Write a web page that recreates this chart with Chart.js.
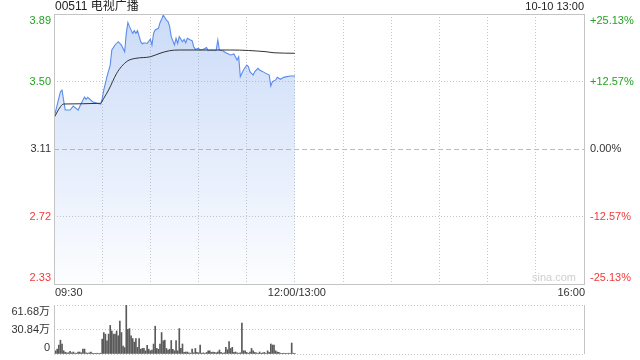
<!DOCTYPE html>
<html>
<head>
<meta charset="utf-8">
<script src="https://cdn.jsdelivr.net/npm/chart.js@4/dist/chart.umd.min.js"></script>
<style>
html,body{margin:0;padding:0;background:#fff;}
#wrap{position:relative;width:640px;height:360px;overflow:hidden;}
canvas{position:absolute;left:0;}
</style>
</head>
<body>
<div id="wrap">
<canvas id="main" width="640" height="300" style="top:0"></canvas>
<canvas id="vol" width="640" height="70" style="top:290px"></canvas>
</div>
<script>
// ---- data ----
const titleText = "00511 电视广播";
const dateText = "10-10 13:00";
const prevClose = 3.11;
const priceTicks = [2.33, 2.72, 3.11, 3.50, 3.89];
const pctTicks = ["-25.13%", "-12.57%", "0.00%", "+12.57%", "+25.13%"];
const timeLabels = ["09:30", "12:00/13:00", "16:00"];
const timeLabelMinutes = [0, 150, 330];
const xGridMinutes = [0,30,60,90,120,150,180,210,240,270,300,330];
const volTicks = [0, 30.84, 61.68];
const volTickLabels = ["0", "30.84万", "61.68万"];

const priceMinutes = [0,4,5,6,7,10,12,15,17,19,20,21,24,27,29,30,31,33,35,36,38,40,42,44,45,46,47,49,50,51,52,54,55,56,58,60,61,62,63,65,66,67,68,70,71,72,73,75,76,77,78,80,81,82,83,85,86,87,88,90,91,93,95,96,98,100,101,102,103,105,107,110,112,114,115,116,118,120,121,122,124,125,127,128,130,132,134,135,136,138,139,141,143,145,147,150];
const prices = [3.29,3.44,3.45,3.39,3.335,3.335,3.358,3.335,3.374,3.41,3.397,3.409,3.383,3.374,3.37,3.40,3.451,3.528,3.595,3.682,3.711,3.73,3.71,3.672,3.778,3.84,3.817,3.778,3.794,3.778,3.794,3.73,3.717,3.724,3.72,3.744,3.711,3.778,3.798,3.807,3.84,3.859,3.884,3.855,3.846,3.817,3.759,3.711,3.75,3.72,3.759,3.73,3.744,3.724,3.75,3.74,3.736,3.701,3.686,3.692,3.682,3.686,3.697,3.678,3.682,3.678,3.682,3.74,3.682,3.678,3.666,3.653,3.659,3.624,3.643,3.528,3.566,3.595,3.586,3.557,3.537,3.557,3.576,3.566,3.557,3.547,3.537,3.474,3.499,3.509,3.524,3.513,3.524,3.528,3.532,3.532];

const avgMinutes = [0,4,6,29,31,34,39,42,46,51,60,66,72,78,110,132,137,150];
const avgPrices = [3.29,3.354,3.37,3.374,3.403,3.451,3.547,3.586,3.62,3.634,3.643,3.663,3.678,3.682,3.682,3.672,3.666,3.663];

const volumes = [
18.7,4,6.2,11.2,17.4,12.5,4.1,2.3,1.5,1.5,
3.5,1.5,2.5,1.2,1,2.5,2.5,1.5,6.2,6.2,
1.5,1,1.5,2.5,1,0.8,0.8,1,1,1,
18.7,27,25,16.6,25,36,29,25,25,29,
23,41.5,27,10,8,61.68,31,32,22.8,19.5,
15,19.5,8.3,19.5,6,7,7,4,11,6,
4,5,12.5,35,7,6,12.5,27,16.6,17.4,
7,5,6,17,6,4,17,4,32,7,
12.6,2,2.5,2.5,1.5,1,6.3,1.5,7,2,
1.5,11.3,1,1.5,1,2,4,4,2,2.5,
2,1.5,2.5,5,2,1,1.5,8.4,5.4,15.5,
7,8.4,2,2.5,1.5,1,1.5,39,4,4,
2,1,2.5,7,4,2,1.5,1,2.5,1,
1.5,2,1,4,2,12.6,11.3,11.3,4,2.5,
2,1,1,1,0.8,1,1,1,13.8,1,
1];

// ---- styles ----
const FONT = '"Liberation Sans", Arial, sans-serif';
const CJKFONT = '"Liberation Sans", "Noto Sans CJK SC", Arial, sans-serif';
const GREEN = '#22a322';
const RED = '#f03a3a';
const DARK = '#333333';
const GRID = '#c8c8c8';

const mainLabels = {
  id: 'mainLabels',
  beforeDatasetsDraw(chart) {
    const ctx = chart.ctx, a = chart.chartArea, y = chart.scales.y;
    const yy = Math.round(y.getPixelForValue(prevClose)) + 0.5;
    ctx.save();
    ctx.strokeStyle = '#bcbcbc';
    ctx.lineWidth = 1;
    ctx.setLineDash([5, 3]);
    ctx.beginPath(); ctx.moveTo(a.left, yy); ctx.lineTo(a.right, yy); ctx.stroke();
    ctx.restore();
  },
  afterDraw(chart) {
    const ctx = chart.ctx, a = chart.chartArea, x = chart.scales.x, y = chart.scales.y;
    ctx.save();
    ctx.strokeStyle = '#c4c4c4';
    ctx.lineWidth = 1;
    ctx.strokeRect(Math.round(a.left) + 0.5, Math.round(a.top) + 0.5, Math.round(a.right - a.left), Math.round(a.bottom - a.top));
    // title
    ctx.font = '12px ' + CJKFONT;
    ctx.fillStyle = '#222';
    ctx.textBaseline = 'middle';
    ctx.textAlign = 'left';
    ctx.fillText(titleText, a.left + 1, 7);
    ctx.font = '11px ' + FONT;
    ctx.textAlign = 'right';
    ctx.fillText(dateText, a.right, 7);
    // y labels
    ctx.font = '11px ' + FONT;
    priceTicks.forEach((v, i) => {
      let py = y.getPixelForValue(v);
      if (i === priceTicks.length - 1) py += 7;
      if (i === 0) py -= 6;
      const col = v > prevClose + 1e-6 ? GREEN : (v < prevClose - 1e-6 ? RED : DARK);
      ctx.fillStyle = col;
      ctx.textAlign = 'right';
      ctx.fillText(v.toFixed(2), a.left - 3, py);
      ctx.textAlign = 'left';
      ctx.fillText(pctTicks[i], a.right + 6, py);
    });
    // x labels
    ctx.fillStyle = DARK;
    timeLabels.forEach((t, i) => {
      const px = x.getPixelForValue(timeLabelMinutes[i]);
      ctx.textAlign = i === 0 ? 'left' : (i === timeLabels.length - 1 ? 'right' : 'center');
      ctx.fillText(t, i === 0 ? px + 1 : (i === timeLabels.length - 1 ? px + 1 : px + 2), 293);
    });
    // watermark
    ctx.fillStyle = '#cfcfcf';
    ctx.textAlign = 'left';
    ctx.fillText('sina.com', 532, a.bottom - 6);
    ctx.restore();
  }
};

new Chart(document.getElementById('main'), {
  type: 'line',
  data: {
    datasets: [
      {
        data: priceMinutes.map((m, i) => ({x: m, y: prices[i]})),
        borderColor: '#5b8cec',
        borderWidth: 1.1,
        pointRadius: 0,
        tension: 0,
        fill: 'start',
        backgroundColor(ctx) {
          const ca = ctx.chart.chartArea;
          if (!ca) return 'rgba(120,160,235,0.2)';
          const g = ctx.chart.ctx.createLinearGradient(0, ca.top, 0, ca.bottom);
          g.addColorStop(0, 'rgba(110,155,235,0.36)');
          g.addColorStop(1, 'rgba(110,155,235,0.02)');
          return g;
        },
        order: 2
      },
      {
        data: avgMinutes.map((m, i) => ({x: m, y: avgPrices[i]})),
        borderColor: '#333333',
        borderWidth: 1,
        pointRadius: 0,
        cubicInterpolationMode: 'monotone',
        fill: false,
        order: 1
      }
    ]
  },
  options: {
    responsive: false,
    animation: false,
    devicePixelRatio: 1,
    layout: {padding: {left: 54, right: 56, top: 14, bottom: 16}},
    plugins: {legend: {display: false}, tooltip: {enabled: false}},
    scales: {
      x: {
        type: 'linear', min: 0, max: 330,
        afterBuildTicks: s => { s.ticks = xGridMinutes.map(v => ({value: v})); },
        ticks: {display: false},
        grid: {color: GRID, drawTicks: false, lineWidth: 1},
        border: {display: false, dash: [1, 2]}
      },
      y: {
        type: 'linear', min: 2.33, max: 3.89,
        afterBuildTicks: s => { s.ticks = priceTicks.map(v => ({value: v})); },
        ticks: {display: false},
        grid: {color: ctx => (ctx.tick && Math.abs(ctx.tick.value - prevClose) < 1e-6) ? 'rgba(0,0,0,0)' : GRID, drawTicks: false, lineWidth: 1},
        border: {display: false, dash: [1, 2]}
      }
    }
  },
  plugins: [mainLabels]
});

const volLabels = {
  id: 'volLabels',
  afterDraw(chart) {
    const ctx = chart.ctx, a = chart.chartArea, y = chart.scales.y;
    ctx.save();
    ctx.strokeStyle = '#c4c4c4';
    ctx.lineWidth = 1;
    ctx.beginPath();
    ctx.moveTo(Math.round(a.left) + 0.5, a.top); ctx.lineTo(Math.round(a.left) + 0.5, a.bottom);
    ctx.moveTo(Math.round(a.right) + 0.5, a.top); ctx.lineTo(Math.round(a.right) + 0.5, a.bottom);
    ctx.stroke();
    ctx.font = '11px ' + CJKFONT;
    ctx.fillStyle = DARK;
    ctx.textAlign = 'right';
    ctx.textBaseline = 'middle';
    volTicks.forEach((v, i) => {
      let py = y.getPixelForValue(v);
      if (i === 0) py -= 6;
      if (i === volTicks.length - 1) py += 7;
      ctx.fillText(volTickLabels[i], a.left - 4, py);
    });
    ctx.restore();
  }
};

new Chart(document.getElementById('vol'), {
  type: 'bar',
  data: {
    datasets: [{
      data: volumes.map((v, i) => ({x: i, y: v})),
      backgroundColor: '#5a5a5a',
      barThickness: 1,
      borderWidth: 0
    }]
  },
  options: {
    responsive: false,
    animation: false,
    devicePixelRatio: 1,
    layout: {padding: {left: 54, right: 56, top: 15, bottom: 6}},
    plugins: {legend: {display: false}, tooltip: {enabled: false}},
    scales: {
      x: {
        type: 'linear', min: 0, max: 330, offset: false,
        ticks: {display: false},
        grid: {display: false, drawTicks: false},
        border: {display: false}
      },
      y: {
        type: 'linear', min: 0, max: 61.68,
        afterBuildTicks: s => { s.ticks = volTicks.map(v => ({value: v})); },
        ticks: {display: false},
        grid: {color: GRID, drawTicks: false, lineWidth: 1},
        border: {display: false, dash: [1, 2]}
      }
    }
  },
  plugins: [volLabels]
});
</script>
</body>
</html>
